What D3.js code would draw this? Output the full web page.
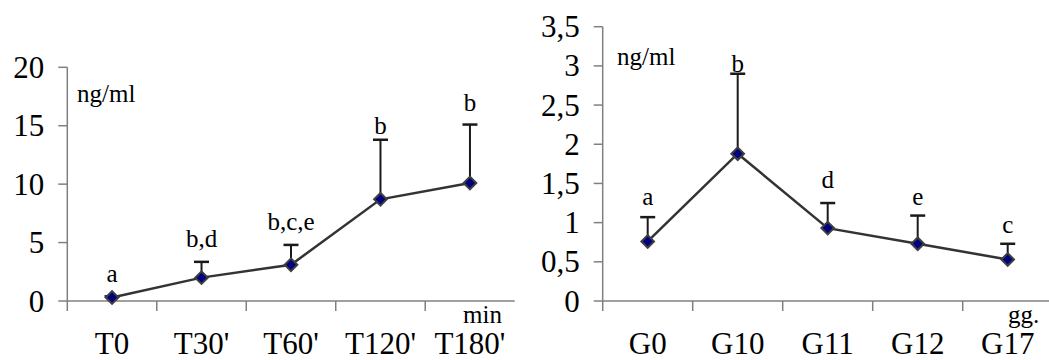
<!DOCTYPE html>
<html>
<head>
<meta charset="utf-8">
<script src="https://cdn.jsdelivr.net/npm/d3@7"></script>
</head>
<body style="margin:0">
<svg id="chart" width="1049" height="360"></svg>
<script>
// Panel A: concentration over minutes after treatment
const timeCats = ["T0", "T30'", "T60'", "T120'", "T180'"];
const timeMean = [0.3, 2.0, 3.1, 8.7, 10.1];
const timeUpper = [0.4, 3.35, 4.8, 13.8, 15.1];
const timeLetters = ["a", "b,d", "b,c,e", "b", "b"];
const timeTicks = [0, 5, 10, 15, 20];

// Panel B: concentration over days
const dayCats = ["G0", "G10", "G11", "G12", "G17"];
const dayMean = [0.76, 1.88, 0.93, 0.73, 0.53];
const dayUpper = [1.07, 2.90, 1.25, 1.09, 0.73];
const dayLetters = ["a", "b", "d", "e", "c"];
const dayTicks = [0, 0.5, 1, 1.5, 2, 2.5, 3, 3.5];

const svg = d3.select("#chart");

function txt(sel, size) {
  return sel.attr("font-size", size)
    .style("font-family", "\"Times New Roman\"");
}

function panel(cfg) {
  const g = svg.append("g");
  const x = d3.scaleBand().domain(cfg.cats).range([cfg.x0, cfg.x1]);
  const y = d3.scaleLinear().domain([0, cfg.ymax]).range([301, cfg.yTop]);
  const axisCol = "#808080";

  // y axis line + ticks
  g.append("line")
    .attr("x1", cfg.x0).attr("x2", cfg.x0)
    .attr("y1", y(cfg.ymax)).attr("y2", y(0))
    .attr("stroke", axisCol).attr("stroke-width", 1.5);
  g.selectAll(".yt").data(cfg.ticks).enter().append("line")
    .attr("x1", cfg.x0 - 9).attr("x2", cfg.x0)
    .attr("y1", d => y(d)).attr("y2", d => y(d))
    .attr("stroke", axisCol).attr("stroke-width", 1.5);
  txt(g.selectAll(".yl").data(cfg.ticks).enter().append("text")
    .attr("x", cfg.x0 - 23)
    .attr("y", d => y(d) + 10.5)
    .attr("text-anchor", "end"), 31)
    .text(d => cfg.fmt(d));

  // x axis line + category boundary ticks
  g.append("line")
    .attr("x1", cfg.x0).attr("x2", cfg.x1)
    .attr("y1", y(0)).attr("y2", y(0))
    .attr("stroke", axisCol).attr("stroke-width", 1.5);
  const bounds = cfg.cats.map(c => x(c));
  g.selectAll(".xt").data(bounds).enter().append("line")
    .attr("x1", d => d).attr("x2", d => d)
    .attr("y1", y(0)).attr("y2", y(0) + 10)
    .attr("stroke", axisCol).attr("stroke-width", 1.5);
  txt(g.selectAll(".xl").data(cfg.cats).enter().append("text")
    .attr("x", d => x(d) + x.bandwidth() / 2)
    .attr("y", 354)
    .attr("text-anchor", "middle"), 31)
    .text(d => d);

  const cx = c => x(c) + x.bandwidth() / 2;

  // error bars (upper only)
  const eb = g.selectAll(".eb").data(cfg.cats).enter().append("g");
  eb.append("line")
    .attr("x1", c => cx(c)).attr("x2", c => cx(c))
    .attr("y1", (c, i) => y(cfg.mean[i])).attr("y2", (c, i) => y(cfg.upper[i]))
    .attr("stroke", "#1a1a1a").attr("stroke-width", 2);
  eb.append("line")
    .attr("x1", c => cx(c) - 7.5).attr("x2", c => cx(c) + 7.5)
    .attr("y1", (c, i) => y(cfg.upper[i])).attr("y2", (c, i) => y(cfg.upper[i]))
    .attr("stroke", "#1a1a1a").attr("stroke-width", 2.5);

  // connecting line
  const line = d3.line().x((d, i) => cx(cfg.cats[i])).y(d => y(d));
  g.append("path")
    .datum(cfg.mean)
    .attr("d", line)
    .attr("fill", "none")
    .attr("stroke", "#333")
    .attr("stroke-width", 2.5);

  // diamond markers
  g.selectAll(".mk").data(cfg.mean).enter().append("path")
    .attr("d", d3.symbol().type(d3.symbolSquare).size(80)())
    .attr("transform", (d, i) => `translate(${cx(cfg.cats[i])},${y(d)}) rotate(45)`)
    .attr("fill", "#000080")
    .attr("stroke", "#404040")
    .attr("stroke-width", 2);

  // significance letters above error caps
  txt(g.selectAll(".lt").data(cfg.letters).enter().append("text")
    .attr("x", (d, i) => cx(cfg.cats[i]))
    .attr("y", (d, i) => y(cfg.upper[i]) - cfg.gaps[i])
    .attr("text-anchor", "middle"), 25)
    .text(d => d);

  // unit labels
  txt(g.append("text").attr("x", cfg.unitX).attr("y", cfg.unitY), 25).text("ng/ml");
  txt(g.append("text").attr("x", cfg.axisLabelX).attr("y", 323), 25).text(cfg.axisLabel);
}

panel({
  cats: timeCats, mean: timeMean, upper: timeUpper, letters: timeLetters,
  ticks: timeTicks, ymax: 20, yTop: 67.3,
  x0: 67.3, x1: 514.7,
  fmt: d3.format("d"),
  gaps: [14, 15, 14.5, 6, 14],
  unitX: 77, unitY: 102,
  axisLabel: "min", axisLabelX: 463
});

panel({
  cats: dayCats, mean: dayMean, upper: dayUpper, letters: dayLetters,
  ticks: dayTicks, ymax: 3.5, yTop: 26.7,
  x0: 602.7, x1: 1052.7,
  fmt: d => String(d).replace(".", ","),
  gaps: [12, 2, 15, 10.5, 10.5],
  unitX: 617, unitY: 65,
  axisLabel: "gg.", axisLabelX: 1008
});
</script>
</body>
</html>
